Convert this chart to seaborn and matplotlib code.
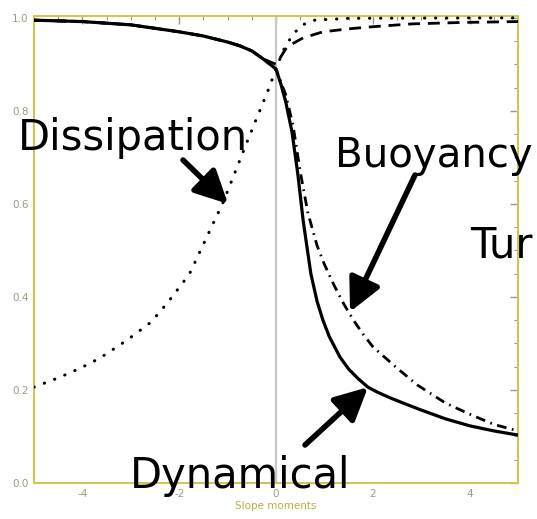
import matplotlib
matplotlib.use("Agg")
import matplotlib.pyplot as plt
import seaborn as sns
from matplotlib.ticker import MultipleLocator

# Normalised efficiency curves against the slope parameter
dyn_x = [-5.0, -4.0, -3.0, -2.0, -1.5, -1.0, -0.75, -0.5, -0.27, 0.0, 0.1, 0.2, 0.33, 0.45, 0.56,
         0.72, 0.85, 0.97, 1.1, 1.32, 1.5, 1.7, 1.9, 2.1, 2.36, 2.6, 2.97, 3.5, 4.0, 4.5, 5.0]
dyn_y = [0.995, 0.992, 0.985, 0.97, 0.961, 0.948, 0.94, 0.929, 0.912, 0.89, 0.858, 0.82, 0.755, 0.665, 0.565,
         0.45, 0.39, 0.35, 0.315, 0.271, 0.245, 0.224, 0.206, 0.195, 0.183, 0.173, 0.158, 0.138, 0.123, 0.112, 0.103]

buo_x = [-5.0, -4.0, -3.0, -2.0, -1.5, -1.0, -0.75, -0.5, -0.27, 0.0, 0.2, 0.35, 0.5, 0.66, 0.85, 1.0,
         1.2, 1.4, 1.6, 1.8, 2.0, 2.5, 2.93, 3.5, 4.0, 4.5, 5.0]
buo_y = [0.995, 0.992, 0.985, 0.97, 0.961, 0.948, 0.94, 0.929, 0.912, 0.89, 0.835, 0.77, 0.67, 0.58, 0.51, 0.47,
         0.425, 0.385, 0.35, 0.32, 0.293, 0.247, 0.21, 0.172, 0.148, 0.126, 0.112]

tur_x = [-5.0, -4.0, -3.0, -2.0, -1.5, -1.0, -0.75, -0.5, -0.27, 0.0, 0.23, 0.56, 0.97, 1.47, 1.88, 2.8, 3.8, 5.0]
tur_y = [0.995, 0.992, 0.985, 0.97, 0.961, 0.948, 0.94, 0.929, 0.912, 0.9, 0.938, 0.957, 0.97, 0.976, 0.98, 0.987, 0.99, 0.992]

dis_x = [-5.0, -4.5, -4.04, -3.63, -3.08, -2.58, -2.23, -1.79, -1.09, -0.58, -0.16, 0.0, 0.15, 0.35, 0.55, 0.8, 1.5, 5.0]
dis_y = [0.206, 0.226, 0.247, 0.269, 0.307, 0.346, 0.389, 0.449, 0.604, 0.738, 0.845, 0.89, 0.93, 0.965, 0.985, 0.995, 0.999, 1.0]

x_ticks = [-4, -2, 0, 2, 4]
y_ticks = [0.0, 0.2, 0.4, 0.6, 0.8, 1.0]

sns.set_style("white")

W, H = 537, 519
fig = plt.figure(figsize=(W / 100, H / 100), dpi=100)
ax = fig.add_axes([34 / W, 36 / H, 484 / W, 467 / H])

frame_col = "#cfc64a"
tick_col = "#9a9a80"

ax.axvline(0, color="#c8c8c8", lw=1.6, zorder=1)

sns.lineplot(x=tur_x, y=tur_y, ax=ax, color="black", lw=2.0, sort=False,
             estimator=None, linestyle=(0, (4.3, 2.8)), zorder=3)
sns.lineplot(x=buo_x, y=buo_y, ax=ax, color="black", lw=2.0, sort=False,
             estimator=None, linestyle=(0, (3.5, 2.0, 0.6, 2.0)), zorder=3)
sns.lineplot(x=dis_x, y=dis_y, ax=ax, color="black", lw=2.2, sort=False,
             estimator=None, linestyle=(0, (0.1, 3.5)), dash_capstyle="round", zorder=3)
sns.lineplot(x=dyn_x, y=dyn_y, ax=ax, color="black", lw=2.3, sort=False,
             estimator=None, zorder=4)

ax.set_xlim(-5, 5)
ax.set_ylim(0, 1.004)
ax.set_xticks(x_ticks)
ax.set_yticks(y_ticks)
ax.set_xticklabels([str(t) for t in x_ticks])
ax.set_yticklabels([f"{t:.1f}" for t in y_ticks])
ax.xaxis.set_minor_locator(MultipleLocator(0.5))
ax.yaxis.set_minor_locator(MultipleLocator(0.05))
ax.tick_params(which="both", direction="in", top=True, right=True,
               colors=tick_col, labelcolor=tick_col, labelsize=7.5, pad=4)
ax.tick_params(which="major", length=6, width=1.0)
ax.tick_params(which="minor", length=3, width=0.8)
for sp in ax.spines.values():
    sp.set_color(frame_col)
    sp.set_linewidth(1.4)
    sp.set_linestyle((0, (1, 1)))
ax.set_xlabel("Slope moments", color="#b8b040", fontsize=7.5, labelpad=2)
ax.set_ylabel("")

label_kw = dict(fontsize=30, color="black", family="DejaVu Sans",
                xycoords="figure pixels", annotation_clip=False)
arrow_kw = dict(arrowstyle="-|>,head_length=1.0,head_width=0.5",
                color="black", lw=4, mutation_scale=20, shrinkA=0, shrinkB=0)

ax.annotate("Dissipation", xy=(18, 369), va="baseline", ha="left", **label_kw)
ax.annotate("Buoyancy", xy=(335, 352), va="baseline", ha="left",
            **{**label_kw, "fontsize": 29})
ax.annotate("Tur", xy=(470, 262), va="baseline", ha="left", **label_kw)
ax.annotate("Dynamical", xy=(130, 31), va="baseline", ha="left", **label_kw)

ax.annotate("", xy=(-0.99, 0.60), xycoords="data", xytext=(183, 359),
            textcoords="figure pixels", arrowprops=arrow_kw, annotation_clip=False)
ax.annotate("", xy=(1.53, 0.368), xycoords="data", xytext=(415, 344),
            textcoords="figure pixels", arrowprops=arrow_kw, annotation_clip=False)
ax.annotate("", xy=(1.9, 0.206), xycoords="data", xytext=(305, 74),
            textcoords="figure pixels", arrowprops=arrow_kw, annotation_clip=False)

fig.savefig("out.png", dpi=100)
